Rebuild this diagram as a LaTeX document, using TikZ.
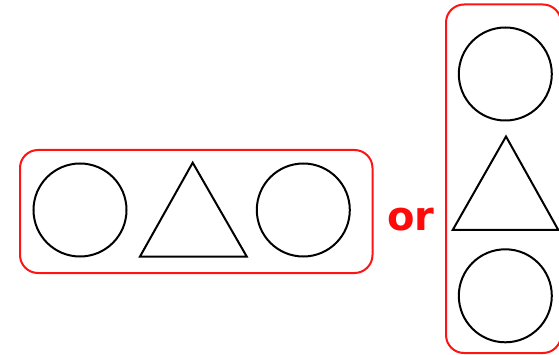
\documentclass[tikz,border=0pt]{standalone}
\usepackage{fontspec}
\newfontfamily\orfont{DejaVu Sans}
\tikzset{
  shp/.style={draw=black, line width=2pt},
  circ/.style={shp, circle, minimum size=93pt, inner sep=0pt},
  frame/.style={draw={rgb,255:red,255;green,20;blue,20}, line width=2pt, rounded corners=18pt},
  ortext/.style={text={rgb,255:red,255;green,10;blue,10}, font=\orfont\bfseries\fontsize{40}{40}\selectfont, inner sep=0pt}
}
\begin{document}
\begin{tikzpicture}[x=1pt,y=-1pt]
\useasboundingbox (0,0) rectangle (559,355);
\clip (0,0) rectangle (559,355);
% horizontal group
\draw[frame] (20,150) rectangle (372.5,273);
\node[circ] (c1) at (80,210) {};
\draw[shp, line join=miter] (192.7,162.7) -- (140,256.5) -- (246.7,256.5) -- cycle;
\node[circ] (c2) at (303.3,210) {};
% or
\node[ortext] (or) at (411,220) {or};
% vertical group
\draw[frame] (446,4.5) rectangle (561,353);
\node[circ] (c3) at (505.3,74) {};
\draw[shp, line join=miter] (506,136.5) -- (452.7,230) -- (558.3,230) -- cycle;
\node[circ] (c4) at (505.3,295.8) {};
\end{tikzpicture}
\end{document}
